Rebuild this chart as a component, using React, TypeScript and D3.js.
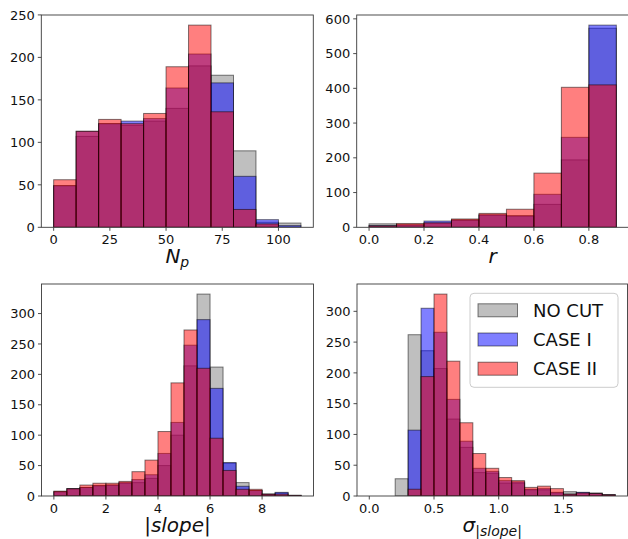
import React from "react";
import * as d3 from "d3";

// ---------- data ----------
const npStart = 0, npWidth = 10;
const npNoCut = [49, 107, 122, 120, 125, 140, 190, 179, 90, 6, 5];
const npCase1 = [49, 113, 122, 125, 128, 164, 204, 170, 60, 9, 2];
const npCase2 = [56, 113, 127, 122, 134, 189, 238, 136, 21, 4, 0];
const npTicks = [0, 25, 50, 75, 100];
const npYTicks = [0, 50, 100, 150, 200, 250];

const rStart = 0, rWidth = 0.1;
const rNoCut = [10, 7, 12, 21, 35, 33, 66, 194, 573];
const rCase1 = [5, 7, 18, 21, 36, 33, 95, 259, 582];
const rCase2 = [4, 11, 13, 24, 40, 52, 156, 403, 410];
const rTicks = [0, 0.2, 0.4, 0.6, 0.8];
const rYTicks = [0, 100, 200, 300, 400, 500, 600];

const slStart = 0, slWidth = 0.5;
const slNoCut = [7, 12, 14, 17, 18, 21, 22, 29, 50, 100, 214, 332, 212, 54, 22, 9, 3, 5, 1];
const slCase1 = [7, 12, 14, 17, 18, 22, 27, 35, 70, 121, 248, 290, 177, 55, 16, 9, 3, 6, 1];
const slCase2 = [8, 12, 18, 21, 21, 24, 40, 59, 106, 186, 273, 210, 95, 42, 11, 11, 3, 3, 1];
const slTicks = [0, 2, 4, 6, 8];
const slYTicks = [0, 50, 100, 150, 200, 250, 300];

const sgStart = 0, sgWidth = 0.1;
const sgNoCut = [0, 0, 28, 262, 236, 207, 125, 79, 38, 37, 21, 21, 10, 10, 5, 7, 5, 5, 2];
const sgCase1 = [0, 0, 0, 107, 305, 266, 157, 89, 45, 40, 25, 23, 11, 12, 6, 3, 6, 4, 2];
const sgCase2 = [0, 0, 0, 11, 194, 328, 219, 119, 69, 45, 30, 25, 14, 16, 12, 3, 5, 4, 2];
const sgTicks = [0, 0.5, 1.0, 1.5];
const sgYTicks = [0, 50, 100, 150, 200, 250, 300];

const seriesNames = ["NO CUT", "CASE I", "CASE II"];
const seriesColors = ["gray", "blue", "red"];

// ---------- layout ----------
const W = 628, H = 539;
const FONT = "DejaVu Sans, sans-serif";
const SPINE = "#3a3a3a";

type PanelProps = {
  left: number; top: number; width: number; height: number;
  start: number; binW: number; series: number[][];
  xTicks: number[]; yTicks: number[]; fmt: (v: number) => string;
  label: React.ReactNode;
};

function Panel(p: PanelProps) {
  const n = p.series[0].length;
  const end = p.start + n * p.binW;
  const span = end - p.start;
  const x = d3.scaleLinear().domain([p.start - 0.05 * span, end + 0.05 * span]).range([p.left, p.left + p.width]);
  const ymax = d3.max(p.series.flat()) as number;
  const y = d3.scaleLinear().domain([0, ymax * 1.05]).range([p.top + p.height, p.top]);
  const bottom = p.top + p.height;
  return (
    <g>
      <defs>
        <clipPath id={`clip-${p.left}-${p.top}`}>
          <rect x={p.left} y={p.top} width={p.width} height={p.height} />
        </clipPath>
      </defs>
      <g clipPath={`url(#clip-${p.left}-${p.top})`}>
        {p.series.map((vals, si) =>
          vals.map((v, i) =>
            v > 0 ? (
              <rect key={`${si}-${i}`}
                x={x(p.start + i * p.binW)} y={y(v)}
                width={x(p.start + (i + 1) * p.binW) - x(p.start + i * p.binW)}
                height={y(0) - y(v)}
                fill={seriesColors[si]} fillOpacity={0.5}
                stroke="black" strokeOpacity={0.5} strokeWidth={1} />
            ) : null
          )
        )}
      </g>
      <rect x={p.left} y={p.top} width={p.width} height={p.height} fill="none" stroke={SPINE} strokeWidth={0.9} />
      {p.xTicks.map((t) => (
        <g key={`x${t}`}>
          <line x1={x(t)} x2={x(t)} y1={bottom} y2={bottom + 3.5} stroke={SPINE} strokeWidth={0.9} />
          <text x={x(t)} y={bottom + 16.5} textAnchor="middle" fontSize={13} fontFamily={FONT} fill="#111">{p.fmt(t)}</text>
        </g>
      ))}
      {p.yTicks.map((t) => (
        <g key={`y${t}`}>
          <line x1={p.left - 3.5} x2={p.left} y1={y(t)} y2={y(t)} stroke={SPINE} strokeWidth={0.9} />
          <text x={p.left - 6.5} y={y(t)} dy="0.36em" textAnchor="end" fontSize={13} fontFamily={FONT} fill="#111">{t}</text>
        </g>
      ))}
      <g transform={`translate(${p.left + p.width / 2},${bottom + 36})`}>{p.label}</g>
    </g>
  );
}

function Legend({ x, y }: { x: number; y: number }) {
  return (
    <g>
      <rect x={x} y={y} width={148} height={94} rx={4} fill="white" fillOpacity={0.8} stroke="#cccccc" strokeWidth={1} />
      {seriesNames.map((name, i) => {
        const cy = y + 17 + i * 29.2;
        return (
          <g key={name}>
            <rect x={x + 8} y={cy - 6.5} width={39.5} height={13} fill={seriesColors[i]} fillOpacity={0.5} stroke="black" strokeOpacity={0.5} strokeWidth={1} />
            <text x={x + 63} y={cy} dy="0.36em" fontSize={18} fontFamily={FONT} fill="#111">{name}</text>
          </g>
        );
      })}
    </g>
  );
}

export default function App() {
  const fmt1 = (v: number) => v.toFixed(1);
  const fmt0 = (v: number) => String(v);
  const pw = 272, ph = 212.3;
  return (
    <svg width={W} height={H} style={{ display: "block", position: "absolute", left: 0, top: 0 }}>
      <rect width={W} height={H} fill="white" />
      <Panel left={41.3} top={15} width={pw} height={ph} start={npStart} binW={npWidth}
        series={[npNoCut, npCase1, npCase2]} xTicks={npTicks} yTicks={npYTicks} fmt={fmt0}
        label={<text textAnchor="middle" fontFamily={FONT} fontSize={20} fill="#111">
          <tspan fontStyle="italic">N</tspan><tspan fontStyle="italic" fontSize={14} dy={4}>p</tspan></text>} />
      <Panel left={356.7} top={15} width={pw} height={ph} start={rStart} binW={rWidth}
        series={[rNoCut, rCase1, rCase2]} xTicks={rTicks} yTicks={rYTicks} fmt={fmt1}
        label={<text textAnchor="middle" fontFamily={FONT} fontSize={20} fontStyle="italic" fill="#111">r</text>} />
      <Panel left={41.5} top={284} width={pw} height={212} start={slStart} binW={slWidth}
        series={[slNoCut, slCase1, slCase2]} xTicks={slTicks} yTicks={slYTicks} fmt={fmt0}
        label={<text textAnchor="middle" fontFamily={FONT} fontSize={20} fill="#111">
          <tspan>|</tspan><tspan fontStyle="italic">slope</tspan><tspan>|</tspan></text>} />
      <Panel left={357} top={284} width={270.5} height={212} start={sgStart} binW={sgWidth}
        series={[sgNoCut, sgCase1, sgCase2]} xTicks={sgTicks} yTicks={sgYTicks} fmt={fmt1}
        label={<text textAnchor="middle" fontFamily={FONT} fontSize={20} fill="#111">
          <tspan fontStyle="italic">σ</tspan><tspan fontSize={14} dy={4}>|</tspan><tspan fontSize={14} fontStyle="italic">slope</tspan><tspan fontSize={14}>|</tspan></text>} />
      <Legend x={470} y={293.3} />
    </svg>
  );
}
